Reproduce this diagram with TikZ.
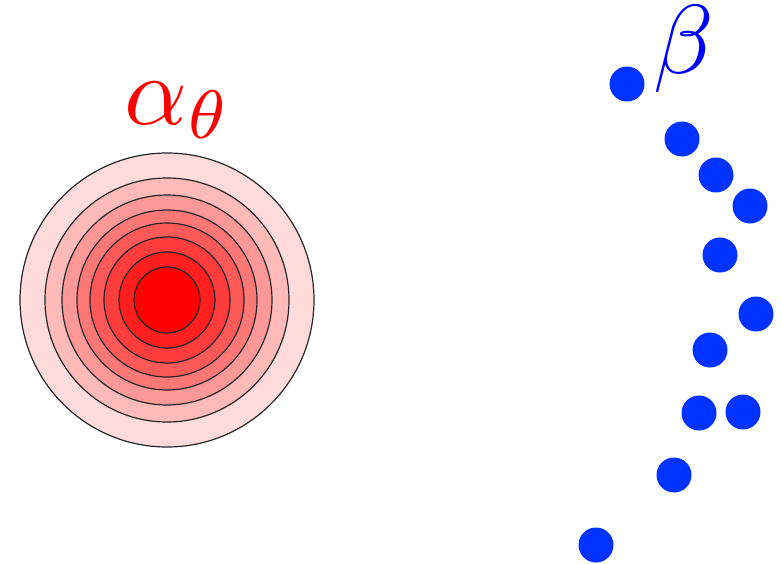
\documentclass[tikz,border=0pt]{standalone}

\definecolor{dotblue}{RGB}{0,51,255}

\begin{document}
\begin{tikzpicture}[
    x=1pt, y=-1pt,
    level/.style={draw=black!85, line width=1.2pt},
    sample/.style={fill=dotblue},
    bigmath/.style={inner sep=0pt, anchor=base west, scale=9.8}
    ]

    \useasboundingbox (0,0) rectangle (782,563);

    % contour levels of the density
    \foreach \r/\c in {147/14, 122/27, 105/40, 90/53, 77/65, 63/76, 48/88, 33/100}
        \filldraw[level, fill=red!\c] (167,300) circle[radius=\r];

    \node[bigmath, text=red] (alpha) at (123,124) {$\alpha_\theta$};

    % samples
    \foreach \px/\py in {627/84, 682/139, 716/175, 750/206, 720/255, 756/314,
                         710/350, 699/413, 743/412, 674/475, 596/545}
        \fill[sample] (\px,\py) circle[radius=17.5];

    \node[bigmath, text=blue] (beta) at (652,73) {$\beta$};

\end{tikzpicture}
\end{document}
